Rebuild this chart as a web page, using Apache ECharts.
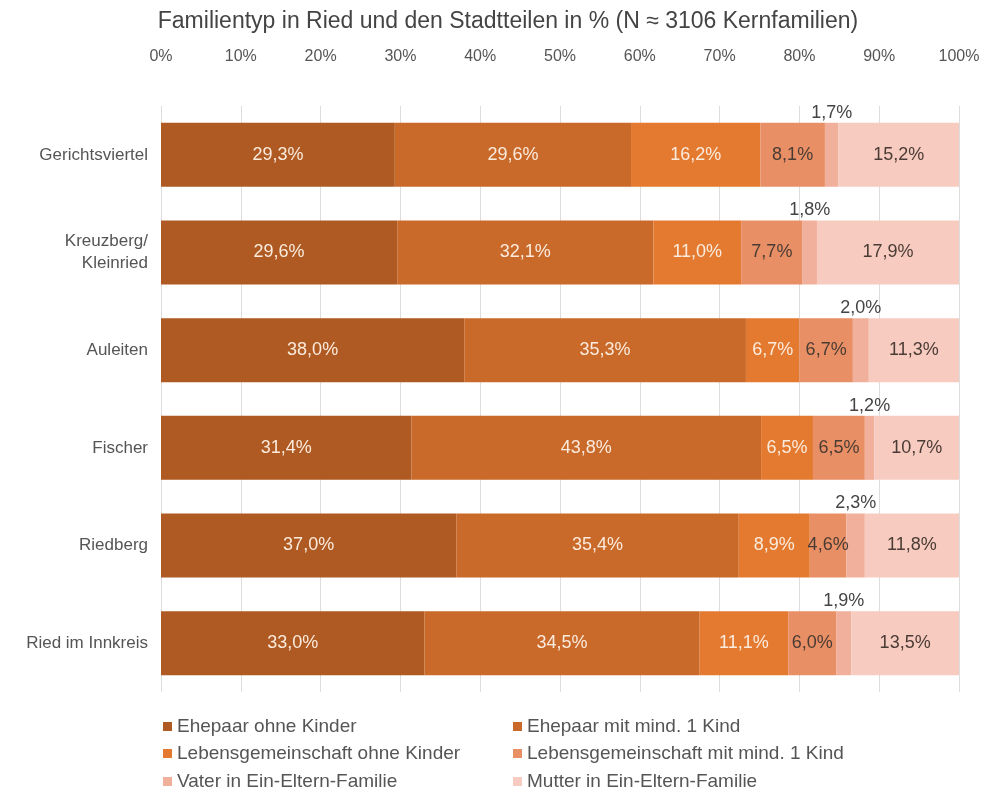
<!DOCTYPE html>
<html>
<head>
<meta charset="utf-8">
<script src="https://cdn.jsdelivr.net/npm/echarts@6/dist/echarts.min.js"></script>
<style>
  html, body { margin: 0; padding: 0; background: #fff; }
  #chart { width: 993px; height: 794px; }
</style>
</head>
<body>
<div id="chart"></div>
<script>
const categories = ["Gerichtsviertel", "Kreuzberg/\nKleinried", "Auleiten", "Fischer", "Riedberg", "Ried im Innkreis"];
const seriesNames = [
  "Ehepaar ohne Kinder",
  "Ehepaar mit mind. 1 Kind",
  "Lebensgemeinschaft ohne Kinder",
  "Lebensgemeinschaft mit mind. 1 Kind",
  "Vater in Ein-Eltern-Familie",
  "Mutter in Ein-Eltern-Familie"
];
const ehepaarOhne = [29.3, 29.6, 38.0, 31.4, 37.0, 33.0];
const ehepaarMit = [29.6, 32.1, 35.3, 43.8, 35.4, 34.5];
const lgOhne = [16.2, 11.0, 6.7, 6.5, 8.9, 11.1];
const lgMit = [8.1, 7.7, 6.7, 6.5, 4.6, 6.0];
const vater = [1.7, 1.8, 2.0, 1.2, 2.3, 1.9];
const mutter = [15.2, 17.9, 11.3, 10.7, 11.8, 13.5];
const tickLabels = ["0%", "10%", "20%", "30%", "40%", "50%", "60%", "70%", "80%", "90%", "100%"];

const colors = ["#AE5A22", "#C9692A", "#E37A30", "#E98F65", "#F1B09C", "#F7CBC0"];
const labelColors = ["#FBEBDD", "#FBEBDD", "#FBEBDD", "#4A3C34", "#444", "#4A3C34"];
const allData = [ehepaarOhne, ehepaarMit, lgOhne, lgMit, vater, mutter];
const font = "Liberation Sans, Arial, sans-serif";

const fmt = v => v.toFixed(1).replace(".", ",") + "%";

const myChart = echarts.init(document.getElementById("chart"));

const series = allData.map((arr, i) => ({
  name: seriesNames[i],
  type: "bar",
  stack: "total",
  barWidth: 64,
  data: arr,
  itemStyle: { color: colors[i] },
  label: {
    show: true,
    position: i === 4 ? "top" : "inside",
    distance: 1,
    color: labelColors[i],
    fontSize: 18,
    fontFamily: font,
    formatter: p => fmt(p.value)
  }
}));

// legend: two columns, three rows
const legendText = { color: "#555", fontSize: 19, fontFamily: font };
const legendRows = [712, 739, 767];
const legendCols = [158, 508];
const legends = seriesNames.map((name, i) => ({
  orient: "horizontal",
  left: legendCols[i % 2],
  top: legendRows[Math.floor(i / 2)],
  itemWidth: 9,
  itemHeight: 9,
  itemGap: 0,
  icon: "rect",
  textStyle: legendText,
  data: [name]
}));

const option = {
  backgroundColor: "#fff",
  animation: false,
  color: colors,
  title: {
    text: "Familientyp in Ried und den Stadtteilen in % (N ≈ 3106 Kernfamilien)",
    left: 503,
    top: 5,
    textAlign: "center",
    textStyle: { color: "#444", fontSize: 23, fontWeight: "normal", fontFamily: font }
  },
  legend: legends,
  grid: { left: 161, right: 34, top: 106, bottom: 102, containLabel: false },
  xAxis: {
    type: "value",
    position: "top",
    min: 0,
    max: 100,
    interval: 10,
    axisLine: { show: false },
    axisTick: { show: false },
    axisLabel: {
      margin: 41,
      color: "#555",
      fontSize: 16,
      fontFamily: font,
      formatter: v => tickLabels[Math.round(v / 10)]
    },
    splitLine: { show: true, lineStyle: { color: "#DDD", width: 1 } }
  },
  yAxis: {
    type: "category",
    inverse: true,
    data: categories,
    axisLine: { show: false },
    axisTick: { show: false },
    axisLabel: {
      margin: 13,
      color: "#555",
      fontSize: 17,
      lineHeight: 22,
      align: "right",
      fontFamily: font
    }
  },
  series: series
};
myChart.setOption(option);
</script>
</body>
</html>
